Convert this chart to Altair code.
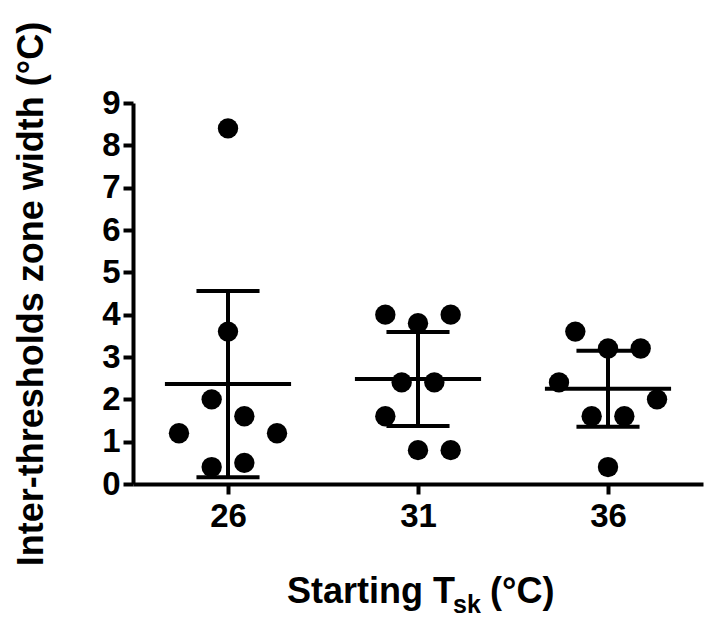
import altair as alt
import pandas as pd

FONT = "Liberation Sans"

# ---- data ----
groups = [26, 31, 36]
values_26 = [8.4, 3.6, 2.0, 1.6, 1.2, 1.2, 0.4, 0.5]
slots_26 = [0, 0, -1, 1, -3, 3, -1, 1]
values_31 = [4.0, 3.8, 4.0, 2.4, 2.4, 1.6, 0.8, 0.8]
slots_31 = [-2, 0, 2, -1, 1, -2, 0, 2]
values_36 = [3.6, 3.2, 3.2, 2.4, 2.0, 1.6, 1.6, 0.4]
slots_36 = [-2, 0, 2, -3, 3, -1, 1, 0]
means = [2.36, 2.48, 2.25]
errs = [2.2, 1.11, 0.9]
y_ticks = list(range(10))
x_ticks = [26, 31, 36]
title_parts = ["Starting T", "sk", "(°C)"]
y_title = "Inter-thresholds zone width (°C)"

# layout constants (in x data units)
SLOT = 0.43
MEAN_HALF = 1.66
CAP_HALF = 0.83

rows = []
for g, vals, sl in zip(groups, [values_26, values_31, values_36], [slots_26, slots_31, slots_36]):
    for v, s in zip(vals, sl):
        rows.append({"group": g, "value": v, "slot": s})
points_df = pd.DataFrame(rows)
summary_df = pd.DataFrame({"group": groups, "mean": means, "err": errs})

xscale = alt.Scale(domain=[23.5, 38.5], nice=False, zero=False)
yscale = alt.Scale(domain=[0, 9], nice=False, zero=True)
xaxis = alt.Axis(values=x_ticks, format="d", title="", labelPadding=6)
yaxis = alt.Axis(values=y_ticks, format="d", title=y_title, titleX=-91,
                 titleBaseline="alphabetic", labelPadding=3)

points = alt.Chart(points_df).transform_calculate(
    xpos=f"datum.group + datum.slot * {SLOT}"
).mark_circle(size=415, color="black", opacity=1).encode(
    x=alt.X("xpos:Q", scale=xscale, axis=xaxis),
    y=alt.Y("value:Q", scale=yscale, axis=yaxis),
)

base = alt.Chart(summary_df).transform_calculate(
    lo="datum.mean - datum.err",
    hi="datum.mean + datum.err",
    xm0=f"datum.group - {MEAN_HALF}",
    xm1=f"datum.group + {MEAN_HALF}",
    xc0=f"datum.group - {CAP_HALF}",
    xc1=f"datum.group + {CAP_HALF}",
)

mean_rule = base.mark_rule(strokeWidth=4, color="black").encode(
    x=alt.X("xm0:Q", scale=xscale, axis=xaxis), x2="xm1:Q",
    y=alt.Y("mean:Q", scale=yscale, axis=yaxis),
)
vert_rule = base.mark_rule(strokeWidth=4, color="black").encode(
    x=alt.X("group:Q", scale=xscale, axis=xaxis),
    y=alt.Y("lo:Q", scale=yscale, axis=yaxis), y2="hi:Q",
)
cap_hi = base.mark_rule(strokeWidth=4, color="black").encode(
    x=alt.X("xc0:Q", scale=xscale, axis=xaxis), x2="xc1:Q",
    y=alt.Y("hi:Q", scale=yscale, axis=yaxis),
)
cap_lo = base.mark_rule(strokeWidth=4, color="black").encode(
    x=alt.X("xc0:Q", scale=xscale, axis=xaxis), x2="xc1:Q",
    y=alt.Y("lo:Q", scale=yscale, axis=yaxis),
)

t1 = alt.Chart(pd.DataFrame({"label": [title_parts[0]]})).mark_text(
    align="right", baseline="alphabetic", fontSize=36, fontWeight="bold", font=FONT, color="black"
).encode(text="label:N", x=alt.value(322), y=alt.value(500))
t2 = alt.Chart(pd.DataFrame({"label": [title_parts[1]]})).mark_text(
    align="left", baseline="alphabetic", fontSize=25, fontWeight="bold", font=FONT, color="black"
).encode(text="label:N", x=alt.value(320), y=alt.value(510))
t3 = alt.Chart(pd.DataFrame({"label": [title_parts[2]]})).mark_text(
    align="left", baseline="alphabetic", fontSize=36, fontWeight="bold", font=FONT, color="black"
).encode(text="label:N", x=alt.value(357), y=alt.value(500))

chart = alt.layer(points, mean_rule, vert_rule, cap_hi, cap_lo, t1, t2, t3).properties(
    width=570, height=381,
    padding={"left": 133, "top": 103, "right": 2, "bottom": 134},
    autosize="none",
    background="white",
).configure_view(stroke=None).configure_axis(
    grid=False,
    domainColor="black", domainWidth=4,
    tickColor="black", tickWidth=4, tickSize=10,
    labelFont=FONT, labelFontSize=33, labelFontWeight="bold", labelColor="black",
    titleFont=FONT, titleFontSize=36, titleFontWeight="bold", titleColor="black",
)

chart.save("out.html", embed_options={"renderer": "svg", "actions": False})
